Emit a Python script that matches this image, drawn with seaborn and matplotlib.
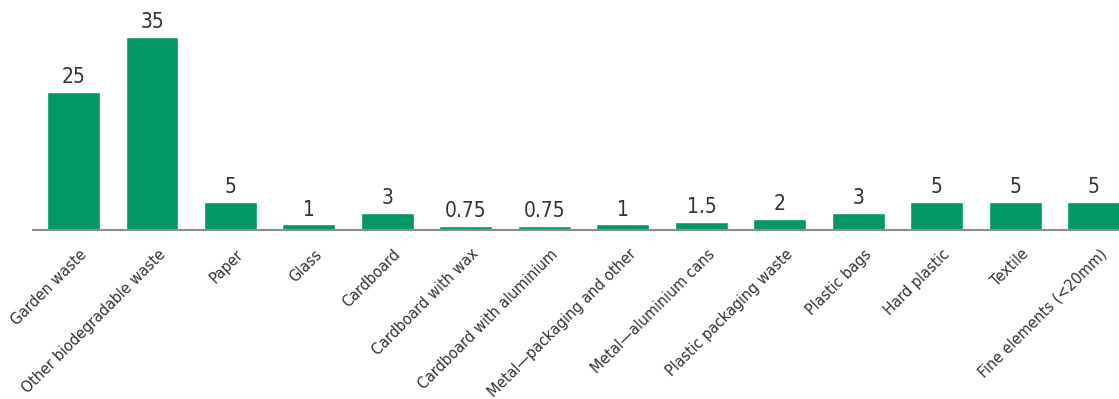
import matplotlib
matplotlib.use("Agg")
import matplotlib.pyplot as plt
import matplotlib.transforms as mtransforms
import seaborn as sns
import pandas as pd

categories = [
    "Garden waste", "Other biodegradable waste", "Paper", "Glass", "Cardboard",
    "Cardboard with wax", "Cardboard with aluminium", "Metal\u2014packaging and other",
    "Metal\u2014aluminium cans", "Plastic packaging waste", "Plastic bags",
    "Hard plastic", "Textile", "Fine elements (<20mm)",
]
values = [25, 35, 5, 1, 3, 0.75, 0.75, 1, 1.5, 2, 3, 5, 5, 5]
value_labels = ["25", "35", "5", "1", "3", "0.75", "0.75", "1", "1.5", "2", "3", "5", "5", "5"]

sns.set_theme(style="white")
plt.rcParams["font.family"] = ["DejaVu Sans"]
plt.rcParams["font.stretch"] = "condensed"

df = pd.DataFrame({"category": categories, "value": values})

fig = plt.figure(figsize=(11.19, 3.99), dpi=100)
ax = fig.add_axes([0.0295, 0.4236, 0.9705, 0.5764])

sns.barplot(data=df, x="category", y="value", color="#019867", saturation=1,
            width=0.675, ax=ax)

ax.set_xlim(-0.516, 13.32)
ax.set_ylim(0, 41.7)

for i, (v, lab) in enumerate(zip(values, value_labels)):
    ax.text(i, v + 0.9, lab, ha="center", va="bottom", fontsize=15,
            color="#333333", fontstretch="condensed")

ax.set_xlabel("")
ax.set_ylabel("")
ax.set_yticks([])
for s in ["top", "right", "left"]:
    ax.spines[s].set_visible(False)
ax.spines["bottom"].set_color("#8c8c8c")
ax.spines["bottom"].set_linewidth(1.5)
ax.tick_params(axis="x", length=0, pad=18)

# nudge the slanted labels so their baselines end just right of each bar centre
shift = mtransforms.ScaledTranslation(0.14, 0, fig.dpi_scale_trans)
for t in ax.get_xticklabels():
    t.set_rotation(45)
    t.set_ha("right")
    t.set_va("baseline")
    t.set_rotation_mode("anchor")
    t.set_fontsize(11.5)
    t.set_fontstretch("condensed")
    t.set_color("#333333")
    t.set_transform(t.get_transform() + shift)

fig.savefig("out.png", dpi=100)
